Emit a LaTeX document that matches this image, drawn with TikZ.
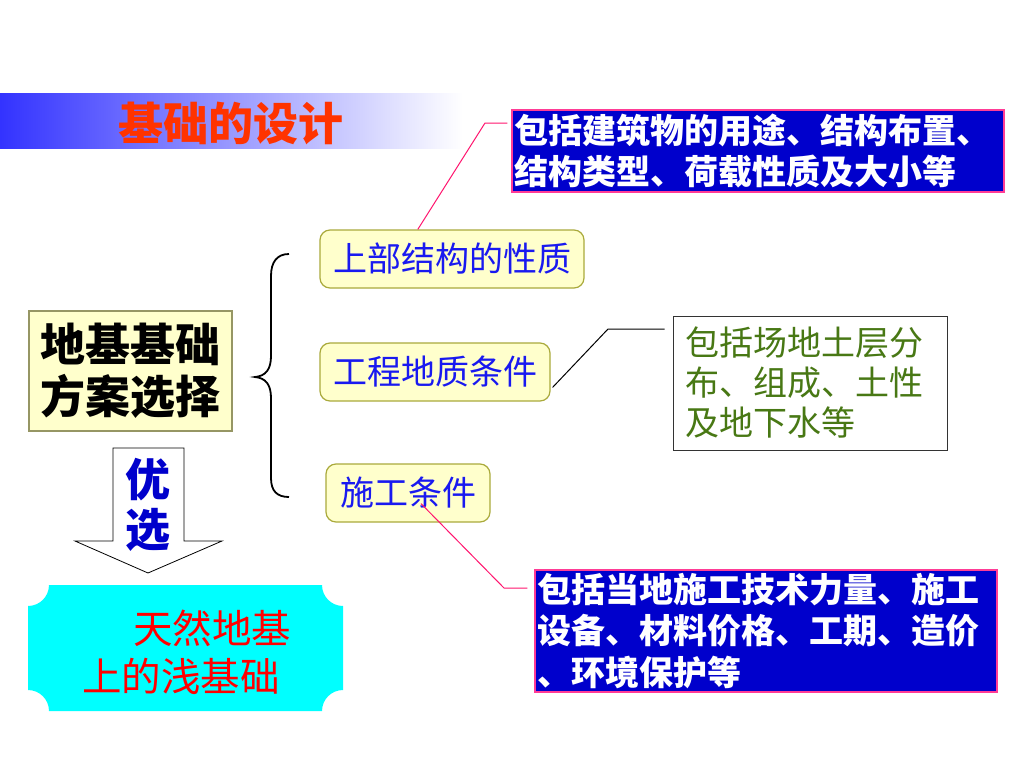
\documentclass[tikz,border=0pt]{standalone}
\usepackage{fontspec}
\newfontfamily\cjk{Noto Sans CJK SC}
\usetikzlibrary{calc}
\definecolor{cNavy}{RGB}{0,0,204}
\definecolor{cPink}{RGB}{255,20,110}
\definecolor{cPinkBorder}{RGB}{255,60,150}
\definecolor{cYFill}{RGB}{255,255,204}
\definecolor{cYBorder}{RGB}{170,170,60}
\definecolor{cLBorder}{RGB}{150,150,100}
\definecolor{cYText}{RGB}{25,25,240}
\definecolor{cGreen}{RGB}{72,120,20}
\definecolor{cTitle}{RGB}{255,51,0}
\definecolor{cBand}{RGB}{51,51,255}
\definecolor{cCyan}{RGB}{0,255,255}
\definecolor{cYou}{RGB}{0,0,204}
\begin{document}
\begin{tikzpicture}[x=1pt,y=-1pt,
  yellowbox/.style={draw=cYBorder, fill=cYFill, rounded corners=10pt, line width=1.2pt,
    inner sep=0pt, text=cYText, minimum height=58pt,
    font=\cjk\fontsize{34pt}{40pt}\selectfont},
  navybox/.style={draw=cPinkBorder, fill=cNavy, line width=1.2pt, text=white,
    font=\cjk\bfseries\fontsize{34pt}{41.5pt}\selectfont, align=left,
    inner xsep=2pt, inner ysep=0pt},
  greenbox/.style={draw=black!80, fill=white, line width=1pt, text=cGreen,
    font=\cjk\fontsize{34pt}{40pt}\selectfont, align=left,
    inner xsep=12pt, inner ysep=0pt},
  pinkconn/.style={draw=cPink, line width=1pt},
  blackconn/.style={draw=black, line width=1pt}]
\useasboundingbox (0,0) rectangle (1024,768);
\fill[white] (0,0) rectangle (1024,768);

% title band
\fill[left color=cBand, right color=white] (0,93) rectangle (463,148);
\node[text=cTitle, font=\cjk\bfseries\fontsize{45pt}{50pt}\selectfont, inner sep=0pt] (title) at (231,123) {基础的设计};

% main left box
\node[draw=cLBorder, fill=cYFill, line width=1.5pt, minimum width=203pt, minimum height=120pt,
  inner sep=0pt, align=center, font=\cjk\bfseries\fontsize{45pt}{52pt}\selectfont] (L) at (130.5,371) {地基基础\\方案选择};

% brace
\draw[line width=1.8pt] (289,254) .. controls (277,254) and (271,262) .. (271,276) -- (271,356)
  .. controls (271,369) and (266,376) .. (255,377)
  .. controls (266,378) and (271,385) .. (271,398) -- (271,478)
  .. controls (271,491) and (277,497) .. (289,497);

% three factor boxes
\node[yellowbox, minimum width=264pt] (s1) at (452,259) {上部结构的性质};
\node[yellowbox, minimum width=230pt] (s2) at (435,372) {工程地质条件};
\node[yellowbox, minimum width=164pt] (s3) at (408,493) {施工条件};

% description boxes
\node[navybox, text width=488pt, minimum height=82pt] (b1) at (758,151)
  {包括建筑物的用途、结构布置、\\结构类型、荷载性质及大小等};
\node[greenbox, text width=250pt, minimum height=134pt] (g) at (810,383)
  {包括场地土层分\\布、组成、土性\\及地下水等};
\node[navybox, text width=458pt, minimum height=122pt] (b3) at (766,631)
  {包括当地施工技术力量、施工\\设备、材料价格、工期、造价\\、环境保护等};

% connectors
\coordinate (k1) at (485,123);
\coordinate (k1e) at ($(s1.north west)!0.371!(s1.north east)$);
\draw[pinkconn] ([xshift=-4pt]b1.west |- k1) -- (k1) -- (k1e);

\coordinate (k2s) at ($(s2.north east)!0.76!(s2.south east)$);
\coordinate (k2) at (608,329);
\draw[blackconn] ([xshift=2pt]k2s) -- (k2) -- ([xshift=-8pt]g.west |- k2);

\coordinate (k3s) at ($(s3.south)+(13,-19)$);
\coordinate (k3) at (504,588);
\draw[pinkconn] (k3s) -- (k3) -- ([xshift=-7pt]b3.west |- k3);

% down arrow
\draw[fill=white, line width=0.8pt] (113,448) -- (184,448) -- (184,541) -- (222,541)
  -- (148,573) -- (75,541) -- (113,541) -- cycle;
\node[text=cYou, align=center, inner sep=0pt,
  font=\cjk\bfseries\fontsize{45pt}{50pt}\selectfont] (you) at (148,505) {优\\选};

% result shape
\fill[cCyan] (49,585) -- (322,585) arc[start angle=180,end angle=90,radius=21]
  -- (343,690) arc[start angle=270,end angle=180,radius=21]
  -- (49,711) arc[start angle=0,end angle=-90,radius=21]
  -- (28,606) arc[start angle=90,end angle=0,radius=21] -- cycle;
\node[anchor=west, align=left, inner sep=0pt, text=red,
  font=\cjk\fontsize{39.5pt}{48pt}\selectfont] (res) at (82,652)
  {\hspace*{51pt}天然地基\\上的浅基础};
\end{tikzpicture}
\end{document}
